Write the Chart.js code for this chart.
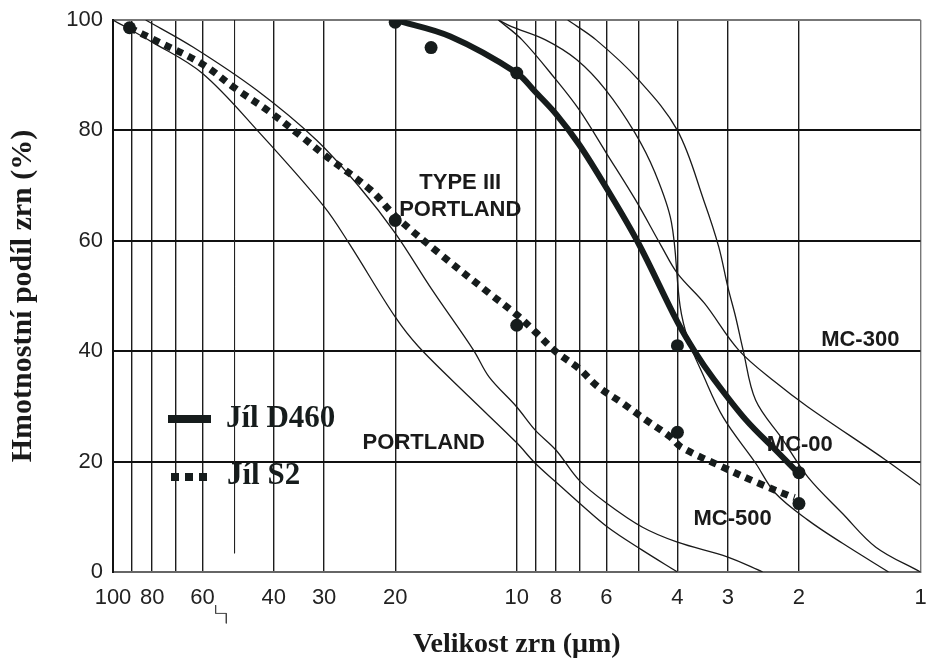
<!DOCTYPE html>
<html>
<head>
<meta charset="utf-8">
<script src="https://cdn.jsdelivr.net/npm/chart.js@4"></script>
<style>
  html, body { margin: 0; padding: 0; background: #fff; }
</style>
</head>
<body>
<canvas id="grainChart" width="927" height="662"></canvas>
<script>
// grain size (um) on the x axis, cumulative mass share (%) on the y axis

// clay D460 - smooth curve + measured points
const d460X = [20, 14.6, 10, 9, 8, 7, 6, 5, 4, 3.62, 3.27, 2.71, 2.25, 1.97];
const d460Y = [100, 97, 90.4, 87, 83, 77.4, 69.6, 59.6, 45.3, 39.9, 35.2, 27.6, 21.6, 17.3];
const d460PtX = [20, 16.3, 10, 4, 2];
const d460PtY = [99.6, 95, 90.4, 41, 18];

// clay S2 - dotted curve + measured points
const s2X = [91, 79, 60, 50, 41, 34, 30, 23, 20, 15.6, 11.7, 10, 9, 8, 7, 6.3, 5.5, 4.8, 4.17, 3.91, 3.09, 2.56, 2.13, 2.05];
const s2Y = [98.6, 96.4, 92, 87.7, 83.4, 78.8, 75.6, 69.2, 64.5, 57.8, 50.5, 46.6, 43.5, 39.9, 36.8, 33.6, 30.7, 27.6, 24.5, 22.6, 19, 16.3, 13.9, 13.5];
const s2PtX = [91, 20, 10, 4, 2];
const s2PtY = [98.6, 63.7, 44.7, 25.3, 12.4];

// reference curves (thin lines)
const type3X = [83, 63.4, 44.1, 31.4, 24.5, 20, 16.2, 12.8, 11.7, 10, 9, 8, 7, 6, 4.88, 4, 3, 2.46];
const type3Y = [100, 95.1, 87.3, 78.3, 69.7, 61.4, 51.1, 40.2, 35.3, 29.9, 25.7, 22.1, 16.6, 12.5, 8.1, 5.4, 2.7, 0];
const portlandX = [100, 80, 60.2, 43.4, 30, 25.9, 20, 17.5, 13.1, 10, 9, 8, 7, 5.95, 4.9, 4];
const portlandY = [100, 96, 90.4, 79.6, 66.2, 59.3, 46.2, 40.8, 31.7, 23.4, 19.7, 16.3, 12.5, 8.1, 4, 0];
const mc300X = [11.1, 9.7, 8, 7, 6, 5.08, 4.38, 4, 3.43, 2.82, 2.29, 1.9, 1.22, 1];
const mc300Y = [100, 96.4, 89.2, 83.7, 75.9, 67.4, 59, 54.1, 48.7, 40.2, 34.4, 29.9, 20.3, 15.7];
const mc500X = [11.1, 10.3, 8.49, 7.1, 6.03, 5.1, 4.55, 4.14, 3.94, 3.76, 3.47, 3.08, 2.56, 2.29, 1.9, 1.56, 1.2];
const mc500Y = [100, 98.8, 96.4, 92.8, 87.4, 79.6, 72.4, 63.4, 48.2, 42, 36, 28, 19.7, 14.3, 9.4, 5.2, 0];
const mc00X = [7.48, 6.36, 5, 4, 3.43, 3.16, 3.0, 2.87, 2.75, 2.56, 2.19, 1.9, 1.56, 1.29, 1];
const mc00Y = [100, 96.4, 89.2, 80, 67, 58.9, 51.6, 46.2, 40.2, 31.1, 23.9, 17.2, 10.6, 4.5, 0];

// short 50 um grid line and the stray mark under the axis
const line50X = [50, 50];
const line50Y = [100, 3.4];
const scanMarkX = [55.7, 55.7, 52.4, 52.4];
const scanMarkY = [-6, -7.5, -7.5, -9.3];

// axis ticks
const xGridValues = [1, 2, 3, 4, 5, 6, 7, 8, 9, 10, 20, 30, 40, 50, 60, 70, 80, 90, 100];
const xTickLabels = [100, 80, 60, 40, 30, 20, 10, 8, 6, 4, 3, 2, 1];
const yTickValues = [0, 20, 40, 60, 80, 100];

// text in the plot
const noteText = ['TYPE III', 'PORTLAND', 'PORTLAND', 'MC-300', 'MC-00', 'MC-500'];
const noteX = [13.8, 13.8, 17.0, 1.41, 1.99, 2.92];
const noteY = [70.5, 65.6, 23.3, 42, 23, 9.7];

const legendText = ['Jíl D460', 'Jíl S2'];

const ink = '#161c1c';

function pts(xs, ys) {
  return xs.map((v, i) => ({ x: v, y: ys[i] }));
}

function thin(xs, ys) {
  return {
    data: pts(xs, ys),
    borderColor: '#1a1a1a',
    borderWidth: 1.3,
    pointRadius: 0,
    tension: 0.35
  };
}

const overlay = {
  id: 'overlay',
  afterDatasetsDraw(chart) {
    const { ctx, scales: { x, y } } = chart;
    ctx.save();
    ctx.fillStyle = '#1a1a1a';
    ctx.font = 'bold 22px "Liberation Sans", Arial, sans-serif';
    ctx.textAlign = 'center';
    ctx.textBaseline = 'middle';
    noteText.forEach((t, i) => {
      ctx.fillText(t, x.getPixelForValue(noteX[i]), y.getPixelForValue(noteY[i]));
    });

    // legend
    ctx.strokeStyle = ink;
    ctx.lineWidth = 8;
    ctx.lineCap = 'butt';
    ctx.beginPath();
    ctx.moveTo(168, 419);
    ctx.lineTo(211, 419);
    ctx.stroke();
    ctx.setLineDash([8, 6]);
    ctx.beginPath();
    ctx.moveTo(171, 477);
    ctx.lineTo(213, 477);
    ctx.stroke();
    ctx.setLineDash([]);
    ctx.fillStyle = ink;
    ctx.font = 'bold 31px "Liberation Serif", "Times New Roman", serif';
    ctx.textAlign = 'left';
    ctx.textBaseline = 'alphabetic';
    ctx.fillText(legendText[0], 226, 427);
    ctx.fillText(legendText[1], 227, 484);
    ctx.restore();
  }
};

const ctx = document.getElementById('grainChart').getContext('2d');
new Chart(ctx, {
  type: 'line',
  data: {
    datasets: [
      thin(type3X, type3Y),
      thin(portlandX, portlandY),
      thin(mc300X, mc300Y),
      thin(mc500X, mc500Y),
      thin(mc00X, mc00Y),
      { data: pts(line50X, line50Y), borderColor: '#222', borderWidth: 1, pointRadius: 0 },
      { data: pts(scanMarkX, scanMarkY), borderColor: '#444', borderWidth: 1, pointRadius: 0, clip: false },
      {
        data: pts(s2X, s2Y),
        borderColor: ink,
        borderWidth: 7,
        borderDash: [7, 6],
        borderCapStyle: 'butt',
        pointRadius: 0,
        tension: 0.35
      },
      {
        data: pts(d460X, d460Y),
        borderColor: ink,
        borderWidth: 6,
        pointRadius: 0,
        tension: 0.35
      },
      { data: pts(d460PtX, d460PtY), showLine: false, pointRadius: 6.5, pointBackgroundColor: ink, pointBorderWidth: 0 },
      { data: pts(s2PtX, s2PtY), showLine: false, pointRadius: 6.5, pointBackgroundColor: ink, pointBorderWidth: 0 }
    ]
  },
  options: {
    responsive: false,
    animation: false,
    layout: { padding: { top: 20, right: 2, bottom: 0, left: 0 } },
    plugins: {
      legend: { display: false },
      tooltip: { enabled: false }
    },
    scales: {
      x: {
        type: 'logarithmic',
        min: 1,
        max: 100,
        reverse: true,
        afterBuildTicks: (scale) => {
          scale.ticks = xGridValues.map(v => ({ value: v }));
        },
        afterFit: (scale) => {
          scale.height = 90;
          scale.paddingLeft = 0;
          scale.paddingRight = 0;
        },
        ticks: {
          autoSkip: false,
          maxRotation: 0,
          padding: 13,
          color: '#222',
          font: { family: '"Liberation Sans", Arial, sans-serif', size: 22 },
          callback: (v) => xTickLabels.includes(v) ? String(v) : ''
        },
        grid: {
          drawTicks: false,
          lineWidth: 1.4,
          color: (c) => {
            const v = c.tick ? c.tick.value : null;
            if (v === 50) return 'rgba(0,0,0,0)';
            if (v === 1) return '#777';
            return '#1c1c1c';
          }
        },
        border: { display: true, color: '#666', width: 2 },
        title: {
          display: true,
          text: 'Velikost zrn (μm)',
          color: '#1a1a1a',
          padding: { top: 0, bottom: 0 },
          font: { family: '"Liberation Serif", "Times New Roman", serif', size: 28, weight: 'bold' }
        }
      },
      y: {
        min: 0,
        max: 100,
        afterBuildTicks: (scale) => {
          scale.ticks = yTickValues.map(v => ({ value: v }));
        },
        afterFit: (scale) => {
          scale.width = 113;
          scale.paddingTop = 0;
          scale.paddingBottom = 0;
        },
        ticks: {
          padding: 10,
          color: '#222',
          font: { family: '"Liberation Sans", Arial, sans-serif', size: 22 }
        },
        grid: {
          drawTicks: false,
          lineWidth: 2,
          color: (c) => (c.tick && c.tick.value === 100) ? '#777' : '#111'
        },
        border: { display: true, color: '#111', width: 2 },
        title: {
          display: true,
          text: 'Hmotnostní podíl zrn (%)',
          color: '#1a1a1a',
          padding: { top: 5, bottom: 0 },
          font: { family: '"Liberation Serif", "Times New Roman", serif', size: 30, weight: 'bold' }
        }
      }
    }
  },
  plugins: [overlay]
});
</script>
</body>
</html>
